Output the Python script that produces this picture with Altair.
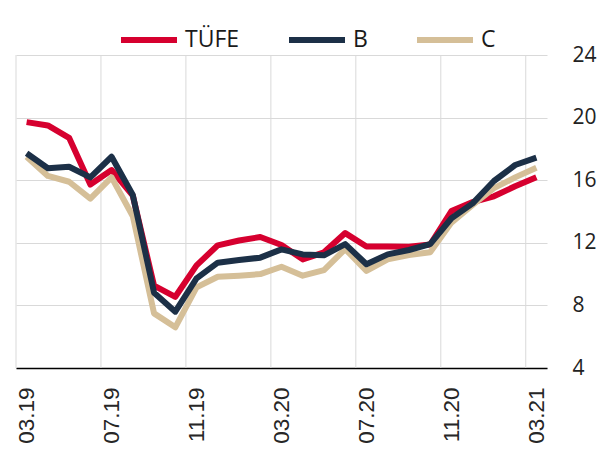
import altair as alt
import pandas as pd

months = ["03.19", "04.19", "05.19", "06.19", "07.19", "08.19", "09.19", "10.19",
          "11.19", "12.19", "01.20", "02.20", "03.20", "04.20", "05.20", "06.20",
          "07.20", "08.20", "09.20", "10.20", "11.20", "12.20", "01.21", "02.21", "03.21"]
tufe = [19.71, 19.50, 18.71, 15.72, 16.65, 15.01, 9.26, 8.55, 10.56, 11.84, 12.15, 12.37,
        11.86, 10.94, 11.39, 12.62, 11.76, 11.77, 11.75, 11.89, 14.03, 14.60, 14.97, 15.61, 16.19]
b_vals = [17.72, 16.76, 16.86, 16.18, 17.50, 15.05, 8.81, 7.60, 9.73, 10.73, 10.90, 11.05,
          11.58, 11.26, 11.20, 11.92, 10.63, 11.26, 11.54, 11.92, 13.57, 14.52, 15.95, 16.97, 17.44]
c_vals = [17.50, 16.27, 15.90, 14.82, 16.18, 13.70, 7.49, 6.60, 9.15, 9.83, 9.90, 10.00,
          10.47, 9.90, 10.26, 11.60, 10.20, 10.94, 11.22, 11.39, 13.29, 14.42, 15.49, 16.18, 16.79]
series_names = ["TÜFE", "B", "C"]
series_colors = ["#d6002f", "#1c3047", "#d5bf98"]
y_ticks = [4, 8, 12, 16, 20, 24]
label_step = 4

idx = list(range(len(months)))
label_idx = idx[::label_step]
grid_pos = [i - 0.5 for i in label_idx]

def frame(name, vals):
    return pd.DataFrame({"i": idx, "month": months, "value": vals, "series": name})

label_map = "{" + ",".join(f"'{i}':'{months[i]}'" for i in label_idx) + "}"

color = alt.Color("series:N",
                  scale=alt.Scale(domain=series_names, range=series_colors),
                  legend=alt.Legend(orient="none", direction="horizontal", title=None,
                                    legendX=102, legendY=-46,
                                    symbolType="stroke", symbolSize=3136,
                                    symbolStrokeWidth=6, labelOffset=5,
                                    columnPadding=37, padding=0,
                                    labelFont="Open Sans", labelFontSize=23,
                                    labelColor="#1a1a1a"))

xscale = alt.Scale(domain=[-0.5, len(months) - 0.5], nice=False, zero=False)
yscale = alt.Scale(domain=[4, 24], nice=False, zero=False)

x_enc = alt.X("i:Q", scale=xscale,
              axis=alt.Axis(values=label_idx, labelExpr=f"{label_map}[datum.value]",
                            title=None, grid=False, ticks=False, tickSize=0,
                            labelAngle=-90, labelPadding=19, labelFont="Liberation Sans",
                            labelFontSize=22.5, labelColor="#262626",
                            domainColor="#000000", domainWidth=1.5))
y_enc = alt.Y("value:Q", scale=yscale,
              axis=alt.Axis(orient="right", values=y_ticks, title=None, ticks=False,
                            domain=False, labelPadding=25, labelFont="Open Sans",
                            labelFontSize=21, labelColor="#222222",
                            gridColor="#d9d9d9", gridWidth=1))

vgrid = alt.Chart(pd.DataFrame({"g": grid_pos})).mark_rule(
    color="#d9d9d9", strokeWidth=1).encode(x=alt.X("g:Q", scale=xscale))

def line(name, vals):
    return alt.Chart(frame(name, vals)).mark_line(
        strokeWidth=6, strokeJoin="round", strokeCap="butt").encode(
        x=x_enc, y=y_enc, color=color)

chart = alt.layer(
    vgrid,
    line("TÜFE", tufe),
    line("C", c_vals),
    line("B", b_vals),
).properties(
    width=531, height=313,
    autosize=alt.AutoSizeParams(type="none"),
    padding={"left": 8, "top": 47, "right": 50, "bottom": 80},
).configure_view(stroke=None)

chart.save("out.html", embed_options={"renderer": "svg", "actions": False})
